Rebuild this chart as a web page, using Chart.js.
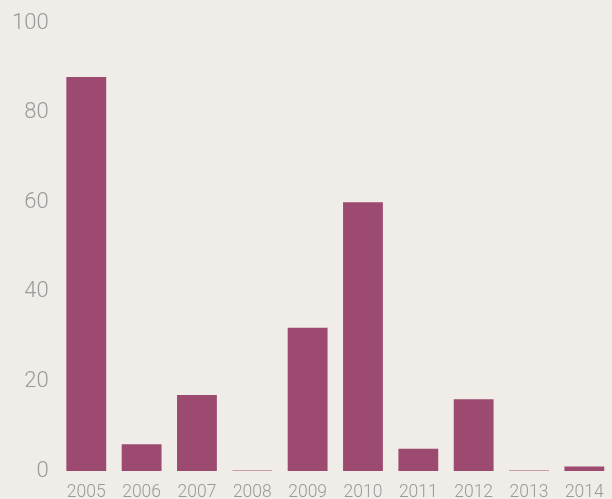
<!DOCTYPE html>
<html><head><meta charset="utf-8">
<script src="https://cdn.jsdelivr.net/npm/chart.js@4/dist/chart.umd.min.js"></script>
<style>html,body{margin:0;padding:0;background:#f0ece8;overflow:hidden;}#wrap{width:612px;height:499px;overflow:hidden;}</style>
</head><body><div id="wrap"><canvas id="c" width="612" height="514"></canvas></div>
<script>
const categories = ["2005","2006","2007","2008","2009","2010","2011","2012","2013","2014"];
const values = [88, 6, 17, 0.1, 32, 60, 5, 16, 0.1, 1];
const yTicks = [0, 20, 40, 60, 80, 100];

new Chart(document.getElementById('c'), {
  type: 'bar',
  data: { labels: categories, datasets: [{ data: values, backgroundColor: '#9c4a70', categoryPercentage: 1, barPercentage: 0.72 }] },
  options: {
    responsive: false, animation: false,
    layout: { padding: { top: 10, right: 0, bottom: 0, left: 2 } },
    plugins: { legend: { display: false }, tooltip: { enabled: false } },
    scales: {
      x: { grid: { display: false, drawTicks: false }, border: { display: false },
           ticks: { color: '#9a9a9a', font: { family: 'Roboto', weight: 300, size: 17.5, lineHeight: 1.77 }, padding: 6, maxRotation: 0, autoSkip: false } },
      y: { min: 0, max: 100, grid: { display: false, drawTicks: false }, border: { display: false },
           afterBuildTicks: (s) => { s.ticks = yTicks.map(v => ({ value: v })); },
           ticks: { color: '#9a9a9a', font: { family: 'Roboto', weight: 300, size: 22 }, padding: 10 } }
    }
  }
});
</script></body></html>
